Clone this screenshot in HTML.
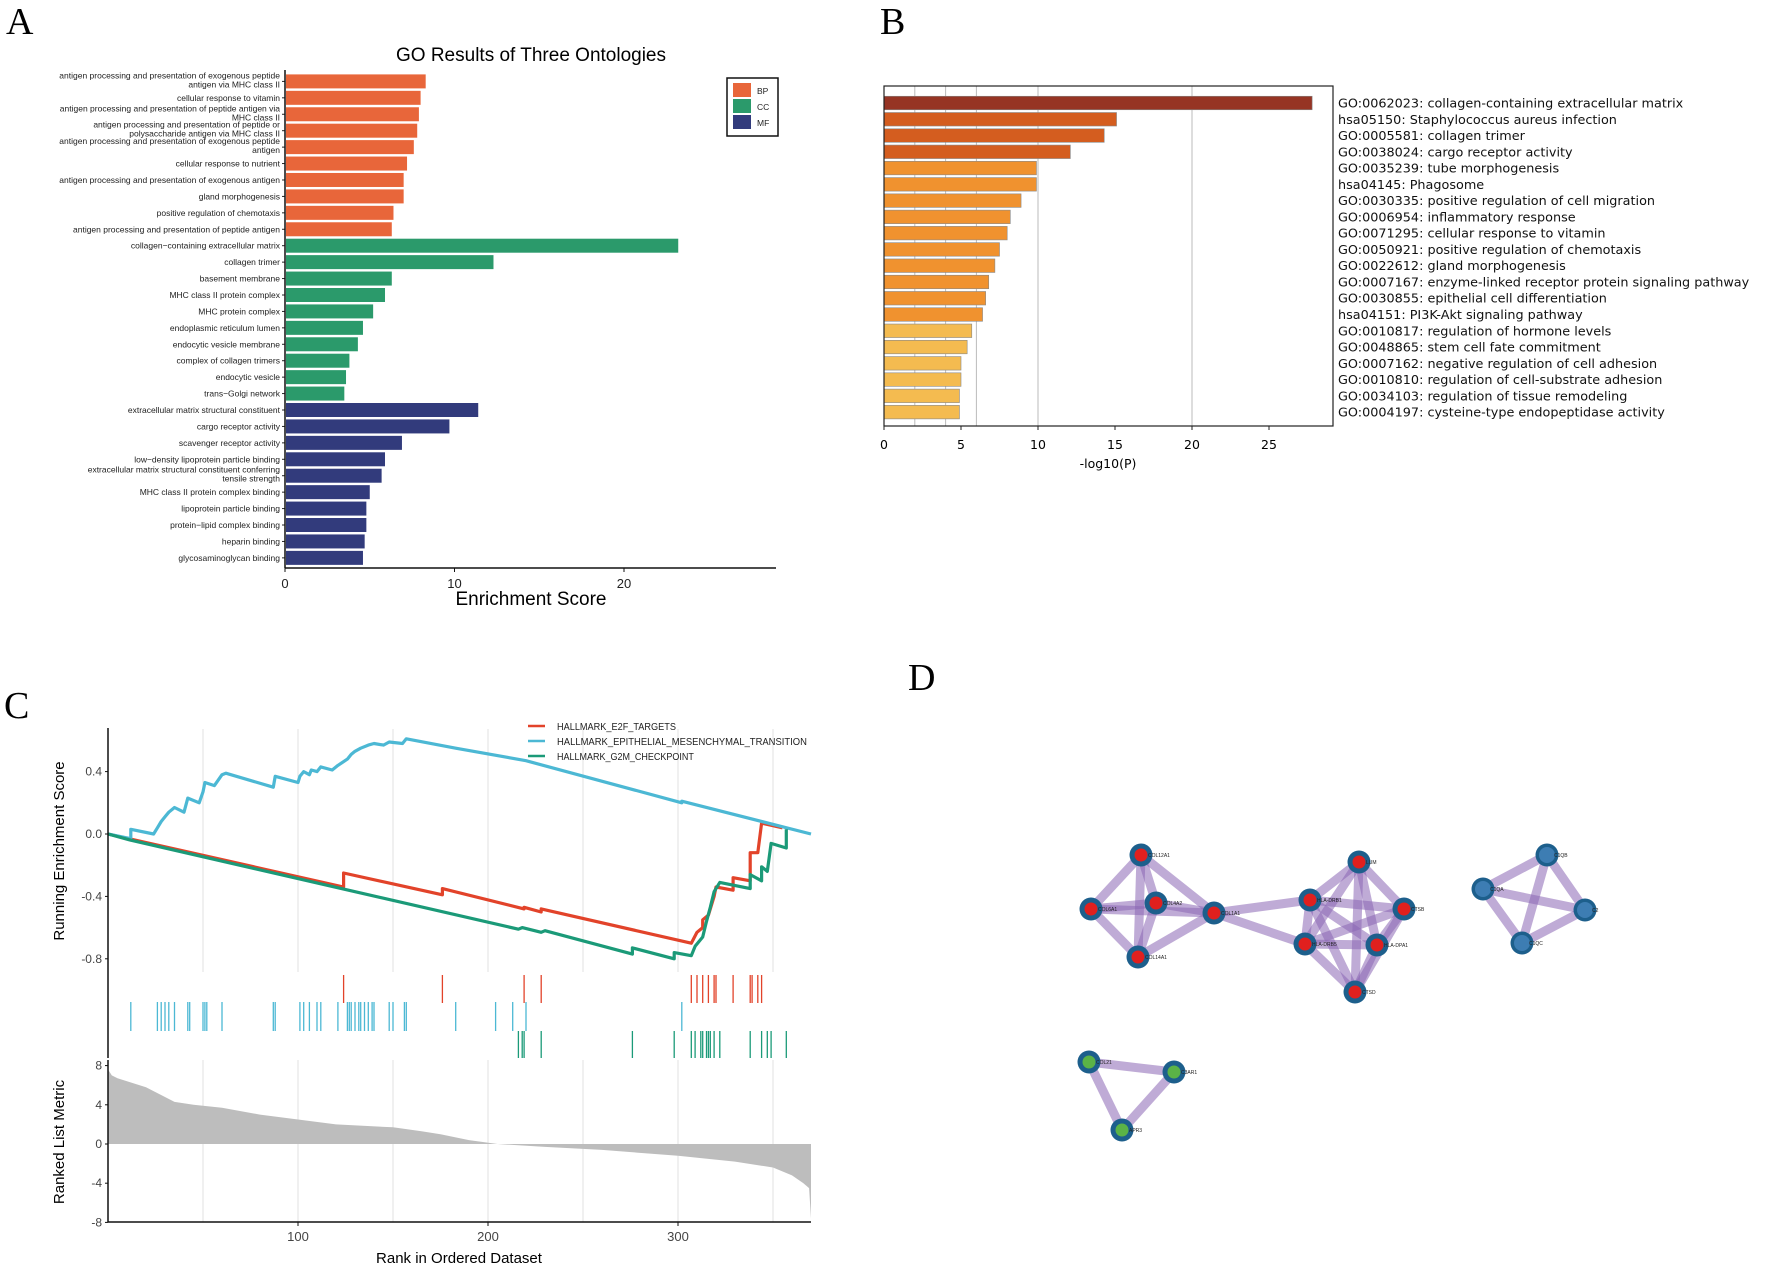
<!DOCTYPE html>
<html><head><meta charset="utf-8"><style>
html,body{margin:0;padding:0;background:#fff;}
svg{display:block;font-family:"Liberation Sans",sans-serif;}
</style></head><body>
<svg id="fig" width="1772" height="1268" viewBox="0 0 1772 1268" xmlns="http://www.w3.org/2000/svg">
<text x="6" y="34" font-family="Liberation Serif,serif" font-size="38">A</text>
<text x="880" y="34" font-family="Liberation Serif,serif" font-size="38">B</text>
<text x="4" y="718" font-family="Liberation Serif,serif" font-size="38">C</text>
<text x="908" y="690" font-family="Liberation Serif,serif" font-size="38">D</text>
<g id="pa"></g>
<g id="pb"></g>
<g id="pc"></g>
<g id="pd"></g>
</svg>
<script>
// ---------- Panel A data ----------
const aLabels = [
 ["antigen processing and presentation of exogenous peptide","antigen via MHC class II"],
 ["cellular response to vitamin"],
 ["antigen processing and presentation of peptide antigen via","MHC class II"],
 ["antigen processing and presentation of peptide or","polysaccharide antigen via MHC class II"],
 ["antigen processing and presentation of exogenous peptide","antigen"],
 ["cellular response to nutrient"],
 ["antigen processing and presentation of exogenous antigen"],
 ["gland morphogenesis"],
 ["positive regulation of chemotaxis"],
 ["antigen processing and presentation of peptide antigen"],
 ["collagen\u2212containing extracellular matrix"],
 ["collagen trimer"],
 ["basement membrane"],
 ["MHC class II protein complex"],
 ["MHC protein complex"],
 ["endoplasmic reticulum lumen"],
 ["endocytic vesicle membrane"],
 ["complex of collagen trimers"],
 ["endocytic vesicle"],
 ["trans\u2212Golgi network"],
 ["extracellular matrix structural constituent"],
 ["cargo receptor activity"],
 ["scavenger receptor activity"],
 ["low\u2212density lipoprotein particle binding"],
 ["extracellular matrix structural constituent conferring","tensile strength"],
 ["MHC class II protein complex binding"],
 ["lipoprotein particle binding"],
 ["protein\u2212lipid complex binding"],
 ["heparin binding"],
 ["glycosaminoglycan binding"]
];
const aValues = [8.3,8.0,7.9,7.8,7.6,7.2,7.0,7.0,6.4,6.3, 23.2,12.3,6.3,5.9,5.2,4.6,4.3,3.8,3.6,3.5, 11.4,9.7,6.9,5.9,5.7,5.0,4.8,4.8,4.7,4.6];
const aGroups = ["BP","BP","BP","BP","BP","BP","BP","BP","BP","BP","CC","CC","CC","CC","CC","CC","CC","CC","CC","CC","MF","MF","MF","MF","MF","MF","MF","MF","MF","MF"];
const aTicks = [0,10,20];

// ---------- Panel B data ----------
const bLabels = ["GO:0062023: collagen-containing extracellular matrix","hsa05150: Staphylococcus aureus infection","GO:0005581: collagen trimer","GO:0038024: cargo receptor activity","GO:0035239: tube morphogenesis","hsa04145: Phagosome","GO:0030335: positive regulation of cell migration","GO:0006954: inflammatory response","GO:0071295: cellular response to vitamin","GO:0050921: positive regulation of chemotaxis","GO:0022612: gland morphogenesis","GO:0007167: enzyme-linked receptor protein signaling pathway","GO:0030855: epithelial cell differentiation","hsa04151: PI3K-Akt signaling pathway","GO:0010817: regulation of hormone levels","GO:0048865: stem cell fate commitment","GO:0007162: negative regulation of cell adhesion","GO:0010810: regulation of cell-substrate adhesion","GO:0034103: regulation of tissue remodeling","GO:0004197: cysteine-type endopeptidase activity"];
const bValues = [27.8,15.1,14.3,12.1,9.9,9.9,8.9,8.2,8.0,7.5,7.2,6.8,6.6,6.4,5.7,5.4,5.0,5.0,4.9,4.9];
const bTicks = [0,5,10,15,20,25];
const bGrid = [2,4,6,10,20];

// ---------- Panel C data ----------
const cSets = ["HALLMARK_E2F_TARGETS","HALLMARK_EPITHELIAL_MESENCHYMAL_TRANSITION","HALLMARK_G2M_CHECKPOINT"];
const esRed = [[0,0],[124,-0.34],[124,-0.25],[176,-0.39],[176,-0.35],[219,-0.48],[219,-0.47],[228,-0.50],[228,-0.48],[307,-0.70],[310,-0.63],[313,-0.60],[313,-0.55],[316,-0.52],[319,-0.40],[320,-0.34],[329,-0.36],[329,-0.28],[338,-0.30],[338,-0.12],[342,-0.12],[344,0.07],[355,0.04]];
const esBlue = [[0,0],[12,-0.03],[12,0.03],[24,0.0],[26,0.04],[28,0.08],[30,0.11],[32,0.14],[35,0.17],[40,0.14],[42,0.23],[48,0.20],[50,0.27],[51,0.33],[56,0.31],[60,0.38],[62,0.39],[87,0.30],[88,0.37],[100,0.33],[101,0.37],[103,0.40],[106,0.38],[107,0.41],[110,0.40],[112,0.43],[118,0.41],[121,0.44],[126,0.48],[128,0.51],[130,0.53],[133,0.55],[137,0.57],[140,0.58],[145,0.57],[148,0.59],[155,0.58],[157,0.61],[183,0.55],[220,0.47],[302,0.20],[302,0.21],[370,0.0]];
const esGreen = [[0,0],[12,-0.04],[216,-0.61],[218,-0.60],[228,-0.63],[230,-0.62],[276,-0.77],[276,-0.73],[298,-0.80],[298,-0.76],[307,-0.78],[309,-0.72],[313,-0.66],[315,-0.56],[317,-0.47],[319,-0.37],[322,-0.31],[338,-0.35],[338,-0.26],[344,-0.30],[344,-0.21],[347,-0.24],[349,-0.06],[357,-0.09],[357,0.03]];
const hitsRed = [124,176,219,228,307,310,313,316,319,320,329,338,339,342,344];
const hitsBlue = [12,26,28,30,32,35,42,43,50,51,52,60,87,88,101,103,106,110,112,121,126,127,128,130,132,133,135,137,139,140,148,150,156,157,183,204,213,220,302];
const hitsGreen = [216,218,219,228,276,298,307,309,312,313,315,316,317,319,322,338,344,347,349,357];
const metricRank = [0,2,5,10,15,20,25,30,35,45,60,80,100,120,150,165,175,190,205,230,260,300,330,350,360,366,369,370];
const metricVal = [7.6,7.0,6.7,6.4,6.1,5.8,5.3,4.8,4.3,4.0,3.7,3.0,2.5,2.0,1.7,1.3,1.0,0.4,0,-0.3,-0.6,-1.2,-1.8,-2.4,-3.2,-4.0,-4.5,-7.6];
const esTicks = [0.4,0.0,-0.4,-0.8];
const metricTicks = [8,4,0,-4,-8];
const rankTicks = [100,200,300];

// ---------- Panel D data ----------
const nodeNames = ["COL12A1","COL6A1","COL4A2","COL1A1","COL14A1","LUM","HLA-DRB1","CTSB","HLA-DRB5","HLA-DPA1","CTSD","C1QB","C1QA","C2","C1QC","COL21","C3AR1","APR3"];
const nodeX = [1141,1091,1156,1214,1138,1359,1310,1404,1305,1377,1355,1547,1483,1585,1522,1089,1174,1122];
const nodeY = [855,909,903,913,957,862,900,909,944,945,992,855,889,910,943,1062,1072,1130];
const nodeGroup = [0,0,0,0,0,0,0,0,0,0,0,1,1,1,1,2,2,2];
const edges = [[0,1],[0,2],[0,3],[0,4],[1,2],[1,3],[1,4],[2,3],[2,4],[3,4],[3,6],[3,8],
 [5,6],[5,7],[5,8],[5,9],[5,10],[6,7],[6,8],[6,9],[6,10],[7,8],[7,9],[7,10],[8,9],[8,10],[9,10],
 [11,12],[11,13],[11,14],[12,13],[12,14],[13,14],[15,16],[15,17],[16,17]];

const NS="http://www.w3.org/2000/svg";
function mk(parent,tag,attrs,text){const e=document.createElementNS(NS,tag);for(const k in attrs)e.setAttribute(k,attrs[k]);if(text!==undefined)e.textContent=text;parent.appendChild(e);return e;}

// ===== Panel A =====
(function(){
 const g=document.getElementById('pa');
 const x0=285, ux=16.95, y0=81.4, step=16.43, bh=14;
 const X=v=>x0+v*ux, Y=i=>y0+i*step;
 const col={BP:"#e8663a",CC:"#2b9a6b",MF:"#323b7c"};
 let t=mk(g,'text',{x:531,y:61,'text-anchor':'middle','font-size':19},"GO Results of Three Ontologies");
 
 
 aValues.forEach((v,i)=>{
  const r=mk(g,'rect',{x:X(0)+1,y:Y(i)-bh/2,width:X(v)-X(0)-1,height:bh,fill:col[aGroups[i]]});
  
  
  mk(g,'line',{x1:X(0)-3,x2:X(0),y1:Y(i),y2:Y(i),stroke:'#222','stroke-width':1});
  const lines=aLabels[i];
  lines.forEach((s,j)=>{
   const yy = lines.length===1? Y(i)+3 : Y(i)-3+j*9;
   const tl=mk(g,'text',{x:X(0)-5,y:yy,'text-anchor':'end','font-size':8.5,fill:'#222'},s);
   
   
  });
 });
 mk(g,'line',{x1:x0,x2:x0,y1:70,y2:568,stroke:'#111','stroke-width':1.5});
 mk(g,'line',{x1:x0,x2:776,y1:568,y2:568,stroke:'#111','stroke-width':1.5});
 aTicks.forEach(v=>{
  mk(g,'line',{x1:X(v),x2:X(v),y1:568,y2:572,stroke:'#111'});
  const tt=mk(g,'text',{x:X(v),y:588,'text-anchor':'middle','font-size':13,fill:'#222'},v);
  
  
 });
 t=mk(g,'text',{x:531,y:605,'text-anchor':'middle','font-size':19},"Enrichment Score");
 
 
 const lg=mk(g,'g',{});
 
 
 mk(lg,'rect',{x:727,y:78,width:51,height:58,fill:'#fff',stroke:'#111','stroke-width':1.5});
 ["BP","CC","MF"].forEach((k,j)=>{
  mk(lg,'rect',{x:733,y:83+j*16,width:18,height:14,fill:col[k]});
  const le=mk(lg,'text',{x:757,y:94+j*16,'font-size':8.5,fill:'#222'},k);
  
  
 });
})();

// ===== Panel B =====
(function(){
 const g=document.getElementById('pb');
 const x0=884, ux=15.4, y0=103, step=16.27, bh=13.5, top=86, bot=426, right=1333;
 const X=v=>x0+v*ux, Y=i=>y0+i*step;
 function colr(i){return i===0?"#963424":(i<4?"#d45d1f":(i<14?"#f0922f":"#f4bb50"));}
 bGrid.forEach(v=>mk(g,'line',{x1:X(v),x2:X(v),y1:top,y2:bot,stroke:'#bbb','stroke-width':1}));
 bValues.forEach((v,i)=>{
  const r=mk(g,'rect',{x:X(0),y:Y(i)-bh/2,width:X(v)-X(0),height:bh,fill:colr(i),stroke:'#888','stroke-width':0.6});
  
  
  const tl=mk(g,'text',{x:1338,y:Y(i)+4.5,'font-size':12.8,'font-family':'DejaVu Sans,sans-serif',fill:'#111'},bLabels[i]);
  
  
 });
 mk(g,'rect',{x:x0,y:top,width:right-x0,height:bot-top,fill:'none',stroke:'#222','stroke-width':1.2});
 bTicks.forEach(v=>{
  mk(g,'line',{x1:X(v),x2:X(v),y1:bot,y2:bot+4,stroke:'#222'});
  const tt=mk(g,'text',{x:X(v),y:449,'text-anchor':'middle','font-size':12.5,'font-family':'DejaVu Sans,sans-serif'},v);
  
  
 });
 const t=mk(g,'text',{x:1108,y:468,'text-anchor':'middle','font-size':12.5,'font-family':'DejaVu Sans,sans-serif'},"-log10(P)");
 
 
})();

// ===== Panel C =====
(function(){
 const g=document.getElementById('pc');
 const x0=108, ux=1.9, RX=r=>x0+r*ux;
 const ES=v=>834-v*156;
 const M=v=>1144-v*9.8;
 const colors=["#e2432a","#4cb8d4","#1b9a78"];
 [50,100,150,200,250,300,350].forEach(r=>{
  mk(g,'line',{x1:RX(r),x2:RX(r),y1:729,y2:972,stroke:'#e6e6e6','stroke-width':1.2});
  mk(g,'line',{x1:RX(r),x2:RX(r),y1:1060,y2:1222,stroke:'#e6e6e6','stroke-width':1.2});
 });
 [esRed,esBlue,esGreen].forEach((pts,k)=>{
  const d=pts.map((p,i)=>(i?'L':'M')+RX(p[0]).toFixed(1)+','+ES(p[1]).toFixed(1)).join(' ');
  const p=mk(g,'path',{d:d,fill:'none',stroke:colors[k],'stroke-width':3.2,'stroke-linejoin':'round'});
  
  
 });
 mk(g,'line',{x1:x0,x2:x0,y1:728,y2:972,stroke:'#111','stroke-width':1.5});
 esTicks.forEach(v=>{
  mk(g,'line',{x1:x0-3,x2:x0,y1:ES(v),y2:ES(v),stroke:'#111'});
  const tt=mk(g,'text',{x:x0-6,y:ES(v)+4,'text-anchor':'end','font-size':12,fill:'#444'},v.toFixed(1));
  
  
 });
 let t=mk(g,'text',{x:64,y:851,'text-anchor':'middle','font-size':15,transform:'rotate(-90 64 851)'},"Running Enrichment Score");
 
 
 cSets.forEach((s,k)=>{
  mk(g,'line',{x1:528,x2:545,y1:726+k*15,y2:726+k*15,stroke:colors[k],'stroke-width':2.5});
  const le=mk(g,'text',{x:557,y:730+k*15,'font-size':10.5,fill:'#222',textLength:s.length*5.95,lengthAdjust:'spacingAndGlyphs'},s);
  
  
 });
 mk(g,'line',{x1:x0,x2:x0,y1:972,y2:1058,stroke:'#111','stroke-width':1.5});
 [[hitsRed,975,1003],[hitsBlue,1002,1031],[hitsGreen,1031,1058]].forEach((h,k)=>{
  h[0].forEach(r=>{
   const l=mk(g,'line',{x1:RX(r),x2:RX(r),y1:h[1],y2:h[2],stroke:colors[k],'stroke-width':1.3});
   
   
  });
 });
 let d='M'+RX(metricRank[0])+','+M(0);
 metricRank.forEach((r,i)=>{d+=' L'+RX(r).toFixed(1)+','+M(metricVal[i]).toFixed(1);});
 d+=' L'+RX(metricRank[metricRank.length-1])+','+M(0)+' Z';
 const ar=mk(g,'path',{d:d,fill:'#bdbdbd'});
 
 
 mk(g,'line',{x1:x0,x2:x0,y1:1060,y2:1222,stroke:'#111','stroke-width':1.5});
 mk(g,'line',{x1:x0,x2:811,y1:1222,y2:1222,stroke:'#111','stroke-width':1.5});
 metricTicks.forEach(v=>{
  mk(g,'line',{x1:x0-3,x2:x0,y1:M(v),y2:M(v),stroke:'#111'});
  const tt=mk(g,'text',{x:x0-6,y:M(v)+4,'text-anchor':'end','font-size':12,fill:'#444'},v);
  
  
 });
 rankTicks.forEach(r=>{
  mk(g,'line',{x1:RX(r),x2:RX(r),y1:1222,y2:1226,stroke:'#111'});
  const tt=mk(g,'text',{x:RX(r),y:1241,'text-anchor':'middle','font-size':13,fill:'#444'},r);
  
  
 });
 t=mk(g,'text',{x:64,y:1142,'text-anchor':'middle','font-size':15,transform:'rotate(-90 64 1142)'},"Ranked List Metric");
 
 
 t=mk(g,'text',{x:459,y:1263,'text-anchor':'middle','font-size':15},"Rank in Ordered Dataset");
 
 
})();

// ===== Panel D =====
(function(){
 const g=document.getElementById('pd');
 edges.forEach(e=>{
  const l=mk(g,'line',{x1:nodeX[e[0]],y1:nodeY[e[0]],x2:nodeX[e[1]],y2:nodeY[e[1]],stroke:'#8a66b5','stroke-opacity':0.55,'stroke-width':9});
  
  
 });
 const inner=["#e0201e","#3d7db3","#5bb347"];
 nodeNames.forEach((n,i)=>{
  const c=mk(g,'g',{});
  
  
  mk(c,'circle',{cx:nodeX[i],cy:nodeY[i],r:11.5,fill:'#1d5f8c'});
  mk(c,'circle',{cx:nodeX[i],cy:nodeY[i],r:nodeGroup[i]===1?8:6.5,fill:inner[nodeGroup[i]]});
  mk(c,'text',{x:nodeX[i]+7,y:nodeY[i]+2,'font-size':5,fill:'#222'},n);
 });
})();
</script>
</body></html>
